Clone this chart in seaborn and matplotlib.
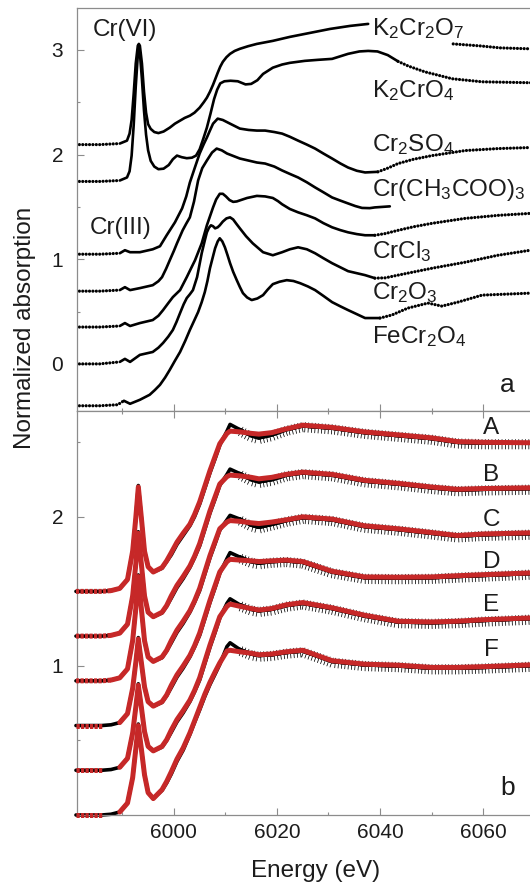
import numpy as np
import pandas as pd
import matplotlib
matplotlib.use("Agg")
import matplotlib.pyplot as plt
import matplotlib.patheffects as pe
from matplotlib.ticker import MultipleLocator, FixedLocator
import seaborn as sns

sns.set_theme(style="white")
plt.rcParams["font.family"] = ["Liberation Sans", "DejaVu Sans"]
plt.rcParams["mathtext.fontset"] = "custom"
plt.rcParams["mathtext.rm"] = "Liberation Sans"
plt.rcParams["mathtext.it"] = "Liberation Sans:italic"
plt.rcParams["mathtext.bf"] = "Liberation Sans:bold"

nan = np.nan

# ---------------------------------------------------------------------------
# (a) Cr K-edge XANES of reference compounds, vertically offset (eV, norm. abs.)
# ---------------------------------------------------------------------------
e_k2cr2o7 = [5981.0, 5985.6, 5989.5, 5990.9, 5991.4, 5991.8, 5992.2, 5992.6, 5993.0, 5993.2,
             5993.4, 5993.8, 5994.2, 5994.6, 5995.0, 5995.5, 5996.2, 5997.0, 5998.0, 5999.2,
             6000.2, 6001.2, 6002.1, 6003.1, 6004.0, 6005.0, 6005.8, 6006.4, 6007.0, 6007.6,
             6008.1, 6008.5, 6009.0, 6009.5, 6010.2, 6010.9, 6011.8, 6012.8, 6014.4, 6016.1,
             6019.2, 6022.5, 6026.4, 6030.3, 6034.2, 6037.7, nan, 6054.2, 6059.4, 6063.3, 6069.2]
a_k2cr2o7 = [2.095, 2.095, 2.105, 2.133, 2.200, 2.330, 2.580, 2.870, 3.040, 3.057,
             3.040, 2.870, 2.600, 2.400, 2.290, 2.245, 2.215, 2.205, 2.220, 2.257,
             2.295, 2.324, 2.350, 2.371, 2.400, 2.448, 2.500, 2.543, 2.600, 2.667,
             2.730, 2.781, 2.840, 2.886, 2.930, 2.962, 2.990, 3.010, 3.035, 3.057,
             3.086, 3.124, 3.162, 3.200, 3.229, 3.248, nan, 3.057, 3.038, 3.019, 3.010]

e_k2cro4 = [5981.0, 5985.6, 5989.5, 5990.9, 5991.4, 5991.8, 5992.2, 5992.6, 5993.0, 5993.2,
            5993.4, 5993.8, 5994.2, 5994.6, 5995.0, 5995.5, 5996.2, 5997.0, 5998.0, 5999.0,
            5999.8, 6000.6, 6001.5, 6002.5, 6003.5, 6004.3, 6005.0, 6005.7, 6006.4, 6007.1,
            6007.8, 6008.4, 6009.0, 6009.8, 6011.0, 6012.4, 6013.9, 6015.0, 6016.2, 6017.3,
            6019.2, 6021.0, 6022.5, 6025.4, 6028.0, 6030.7, 6033.8, 6036.0, 6037.7, 6039.5,
            6041.5, 6043.5, 6045.5, 6048.7, 6054.0, 6059.8, 6069.2]
a_k2cro4 = [1.743, 1.743, 1.752, 1.781, 1.840, 1.990, 2.280, 2.650, 2.950, 3.010,
            2.970, 2.720, 2.420, 2.190, 2.040, 1.940, 1.885, 1.860, 1.865, 1.900,
            1.955, 1.990, 1.975, 1.965, 1.970, 1.990, 2.050, 2.150, 2.257, 2.390,
            2.530, 2.620, 2.680, 2.700, 2.705, 2.700, 2.670, 2.675, 2.710, 2.770,
            2.830, 2.860, 2.876, 2.895, 2.905, 2.914, 2.962, 2.985, 2.990, 2.985,
            2.950, 2.890, 2.845, 2.790, 2.724, 2.695, 2.686]

e_cr2so4 = [5981.0, 5985.6, 5989.5, 5990.5, 5991.5, 5993.4, 5995.9, 5997.3, 5998.6, 6000.2,
            6001.6, 6002.4, 6003.1, 6004.1, 6005.0, 6005.8, 6006.4, 6007.0, 6007.6, 6008.5,
            6009.5, 6010.9, 6012.8, 6014.5, 6016.1, 6017.7, 6019.5, 6021.0, 6022.5, 6024.1,
            6025.8, 6027.4, 6029.0, 6030.7, 6032.3, 6033.8, 6035.5, 6037.1, 6039.6, 6041.5,
            6043.5, 6046.5, 6050.1, 6056.5, 6062.9, 6069.2]
a_cr2so4 = [1.048, 1.048, 1.057, 1.086, 1.067, 1.067, 1.095, 1.124, 1.229, 1.352,
            1.486, 1.600, 1.733, 1.880, 2.010, 2.100, 2.162, 2.230, 2.295, 2.343,
            2.330, 2.295, 2.248, 2.235, 2.229, 2.229, 2.215, 2.200, 2.170, 2.133,
            2.095, 2.057, 2.010, 1.962, 1.915, 1.876, 1.845, 1.829, 1.835, 1.870,
            1.914, 1.955, 1.990, 2.038, 2.057, 2.067]

e_cracetate = [5981.0, 5985.6, 5989.5, 5990.5, 5991.5, 5993.4, 5995.9, 5997.0, 5997.7, 5998.5,
               5999.2, 6000.0, 6000.6, 6001.7, 6002.4, 6003.1, 6003.9, 6004.7, 6005.5, 6006.4,
               6007.4, 6008.3, 6009.3, 6010.3, 6012.8, 6016.1, 6017.7, 6019.5, 6021.0, 6022.5,
               6024.1, 6025.8, 6027.4, 6029.0, 6030.7, 6032.3, 6033.8, 6035.2, 6036.5, 6038.0,
               6039.0, 6041.9]
a_cracetate = [0.695, 0.695, 0.705, 0.733, 0.705, 0.724, 0.752, 0.790, 0.829, 0.910,
               0.990, 1.080, 1.152, 1.276, 1.340, 1.400, 1.550, 1.752, 1.870, 1.943,
               2.019, 2.057, 2.040, 2.010, 1.962, 1.924, 1.914, 1.885, 1.848, 1.815,
               1.781, 1.735, 1.686, 1.640, 1.590, 1.560, 1.533, 1.508, 1.490, 1.488,
               1.495, 1.505]

e_crcl3 = [5981.0, 5985.6, 5989.5, 5990.5, 5991.5, 5993.4, 5995.9, 5997.0, 5997.9, 5998.9,
           5999.8, 6001.2, 6002.5, 6003.3, 6004.1, 6005.4, 6006.4, 6007.6, 6008.2, 6008.9,
           6009.5, 6010.1, 6010.8, 6011.5, 6012.2, 6012.8, 6014.2, 6016.1, 6017.7, 6019.2,
           6020.2, 6021.0, 6022.5, 6024.1, 6025.8, 6027.4, 6029.0, 6030.7, 6032.3, 6033.8,
           6035.5, 6037.1, 6039.0, 6041.0, 6043.5, 6046.5, 6050.1, 6056.5, 6062.9, 6069.2]
a_crcl3 = [0.352, 0.352, 0.362, 0.390, 0.362, 0.390, 0.419, 0.460, 0.514, 0.580,
           0.638, 0.705, 0.829, 0.910, 0.990, 1.152, 1.324, 1.495, 1.571, 1.625,
           1.625, 1.600, 1.565, 1.548, 1.552, 1.562, 1.585, 1.605, 1.600, 1.585,
           1.555, 1.525, 1.480, 1.448, 1.420, 1.390, 1.345, 1.305, 1.278, 1.257,
           1.240, 1.229, 1.229, 1.245, 1.276, 1.310, 1.343, 1.390, 1.419, 1.438]

e_cr2o3 = [5981.0, 5985.6, 5989.5, 5990.5, 5991.5, 5993.4, 5995.9, 5997.0, 5997.9, 5998.9,
           5999.8, 6000.5, 6001.2, 6001.9, 6002.5, 6003.1, 6003.7, 6004.5, 6005.4, 6006.0,
           6006.4, 6006.8, 6007.2, 6007.6, 6008.0, 6008.5, 6008.9, 6009.5, 6010.2, 6010.9,
           6011.5, 6012.1, 6012.8, 6014.0, 6015.3, 6017.3, 6019.2, 6021.0, 6022.5, 6024.1,
           6025.8, 6027.4, 6029.0, 6030.7, 6033.8, 6037.1, 6039.0, 6041.0, 6043.5, 6050.1,
           6056.5, 6062.9, 6069.2]
a_cr2o3 = [0.000, 0.000, 0.019, 0.048, 0.019, 0.086, 0.114, 0.155, 0.200, 0.260,
           0.324, 0.400, 0.486, 0.570, 0.629, 0.665, 0.705, 0.829, 1.057, 1.180,
           1.257, 1.300, 1.324, 1.315, 1.295, 1.305, 1.324, 1.360, 1.390, 1.400,
           1.380, 1.340, 1.295, 1.220, 1.152, 1.067, 1.038, 1.067, 1.095, 1.114,
           1.095, 1.057, 1.010, 0.962, 0.886, 0.848, 0.819, 0.822, 0.848, 0.914,
           0.971, 1.038, 1.086]

e_fecr2o4 = [5981.0, 5985.6, 5989.1, 5990.3, 5991.5, 5993.4, 5995.3, 5996.3, 5997.3, 5998.3,
             5999.2, 6000.2, 6001.2, 6002.2, 6003.1, 6004.0, 6004.7, 6005.4, 6006.0, 6006.5,
             6007.0, 6007.5, 6008.0, 6008.5, 6008.9, 6009.4, 6009.9, 6010.4, 6010.9, 6011.5,
             6012.2, 6012.8, 6013.4, 6014.2, 6015.1, 6016.2, 6017.3, 6018.2, 6019.2, 6020.5,
             6021.9, 6023.2, 6024.5, 6026.0, 6027.4, 6029.0, 6030.7, 6032.3, 6033.8, 6035.5,
             6037.1, 6040.0, 6042.3, 6045.4, 6049.3, 6052.0, 6055.1, 6059.8, 6069.2]
a_fecr2o4 = [-0.400, -0.400, -0.390, -0.352, -0.381, -0.343, -0.295, -0.250, -0.200, -0.130,
             -0.057, 0.030, 0.114, 0.220, 0.324, 0.420, 0.495, 0.590, 0.686, 0.790,
             0.914, 1.010, 1.105, 1.170, 1.200, 1.170, 1.114, 1.040, 0.962, 0.880,
             0.800, 0.735, 0.676, 0.635, 0.610, 0.625, 0.657, 0.710, 0.762, 0.785,
             0.800, 0.792, 0.771, 0.740, 0.705, 0.650, 0.590, 0.550, 0.514, 0.475,
             0.438, 0.438, 0.467, 0.533, 0.581, 0.552, 0.590, 0.657, 0.676]

ref_names = ["K2Cr2O7", "K2CrO4", "Cr2SO4", "Cr(CH3COO)3", "CrCl3", "Cr2O3", "FeCr2O4"]
ref_labels = [r"K$_{\mathregular{2}}$Cr$_{\mathregular{2}}$O$_{\mathregular{7}}$",
              r"K$_{\mathregular{2}}$CrO$_{\mathregular{4}}$",
              r"Cr$_{\mathregular{2}}$SO$_{\mathregular{4}}$",
              r"Cr(CH$_{\mathregular{3}}$COO)$_{\mathregular{3}}$",
              r"CrCl$_{\mathregular{3}}$",
              r"Cr$_{\mathregular{2}}$O$_{\mathregular{3}}$",
              r"FeCr$_{\mathregular{2}}$O$_{\mathregular{4}}$"]
ref_label_y = [3.20, 2.61, 2.10, 1.66, 1.07, 0.68, 0.26]

# ---------------------------------------------------------------------------
# (b) samples A-F: measured spectra (black) and linear-combination fits (red)
# ---------------------------------------------------------------------------
e_samples = [5981.0, 5986.0, 5987.8, 5989.5, 5991.0, 5992.0, 5992.6, 5993.1, 5993.7, 5994.3,
             5995.0, 5996.0, 5997.7, 5998.6, 5999.5, 6000.6, 6001.8, 6003.1, 6004.0, 6005.0,
             6006.0, 6007.0, 6008.0, 6008.9, 6010.3, 6010.9, 6012.8, 6015.0, 6016.5, 6019.0,
             6021.8, 6025.0, 6030.7, 6037.0, 6043.5, 6050.0, 6055.0, 6060.0, 6069.2]

fit_A = [1.500, 1.500, 1.505, 1.520, 1.580, 1.770, 1.990, 2.200, 1.990, 1.770,
         1.665, 1.630, 1.660, 1.705, 1.760, 1.830, 1.890, 1.950, 2.015, 2.100,
         2.205, 2.310, 2.405, 2.490, 2.560, 2.575, 2.570, 2.560, 2.555, 2.565,
         2.590, 2.615, 2.600, 2.570, 2.550, 2.530, 2.505, 2.500, 2.497]
dat_A = [1.500, 1.500, 1.505, 1.520, 1.580, 1.770, 1.990, 2.210, 1.990, 1.770,
         1.665, 1.630, 1.655, 1.700, 1.745, 1.815, 1.875, 1.940, 2.000, 2.085,
         2.190, 2.295, 2.390, 2.480, 2.575, 2.620, 2.585, 2.545, 2.530, 2.550,
         2.585, 2.610, 2.595, 2.565, 2.545, 2.525, 2.500, 2.495, 2.495]

fit_B = [1.200, 1.200, 1.205, 1.220, 1.280, 1.470, 1.680, 1.890, 1.680, 1.470,
         1.360, 1.330, 1.360, 1.405, 1.470, 1.540, 1.600, 1.670, 1.735, 1.820,
         1.930, 2.040, 2.135, 2.220, 2.270, 2.280, 2.275, 2.265, 2.255, 2.265,
         2.285, 2.300, 2.285, 2.245, 2.225, 2.200, 2.185, 2.190, 2.195]
dat_B = [1.200, 1.200, 1.205, 1.220, 1.280, 1.470, 1.680, 1.900, 1.680, 1.470,
         1.360, 1.330, 1.355, 1.400, 1.455, 1.525, 1.585, 1.660, 1.725, 1.805,
         1.915, 2.025, 2.120, 2.210, 2.285, 2.320, 2.290, 2.250, 2.235, 2.250,
         2.280, 2.295, 2.280, 2.240, 2.220, 2.195, 2.180, 2.185, 2.190]

fit_C = [0.900, 0.900, 0.905, 0.920, 0.980, 1.170, 1.380, 1.600, 1.380, 1.170,
         1.060, 1.030, 1.060, 1.105, 1.170, 1.240, 1.300, 1.370, 1.435, 1.520,
         1.630, 1.740, 1.835, 1.920, 1.965, 1.975, 1.970, 1.960, 1.955, 1.965,
         1.980, 2.000, 1.985, 1.940, 1.920, 1.895, 1.875, 1.885, 1.893]
dat_C = [0.900, 0.900, 0.905, 0.920, 0.980, 1.170, 1.380, 1.610, 1.380, 1.170,
         1.060, 1.030, 1.055, 1.100, 1.155, 1.225, 1.285, 1.360, 1.425, 1.505,
         1.615, 1.725, 1.820, 1.910, 1.980, 2.010, 1.985, 1.945, 1.930, 1.950,
         1.975, 1.995, 1.980, 1.935, 1.915, 1.890, 1.870, 1.880, 1.888]

fit_D = [0.600, 0.600, nan, 0.620, 0.680, 0.850, 1.020, 1.180, 1.020, 0.860,
         0.760, 0.730, 0.760, 0.805, 0.870, 0.940, 1.000, 1.070, 1.135, 1.220,
         1.330, 1.440, 1.540, 1.630, 1.700, 1.715, 1.710, 1.705, 1.700, 1.705,
         1.710, 1.700, 1.635, 1.597, 1.595, 1.597, 1.605, 1.612, 1.624]
dat_D = [0.600, 0.600, 0.605, 0.620, 0.680, 0.850, 1.020, 1.190, 1.020, 0.860,
         0.760, 0.730, 0.755, 0.800, 0.855, 0.925, 0.985, 1.060, 1.125, 1.205,
         1.315, 1.425, 1.525, 1.620, 1.720, 1.760, 1.730, 1.700, 1.690, 1.700,
         1.705, 1.695, 1.630, 1.592, 1.590, 1.592, 1.600, 1.607, 1.620]

fit_E = [0.300, 0.300, nan, 0.320, 0.380, 0.550, 0.720, 0.870, 0.720, 0.560,
         0.460, 0.430, 0.460, 0.505, 0.570, 0.640, 0.700, 0.770, 0.835, 0.920,
         1.030, 1.140, 1.240, 1.330, 1.400, 1.415, 1.400, 1.385, 1.375, 1.385,
         1.410, 1.425, 1.390, 1.340, 1.300, 1.295, 1.300, 1.310, 1.322]
dat_E = [0.300, 0.300, 0.305, 0.320, 0.380, 0.550, 0.720, 0.880, 0.720, 0.560,
         0.460, 0.430, 0.455, 0.500, 0.555, 0.625, 0.685, 0.760, 0.825, 0.905,
         1.015, 1.125, 1.225, 1.320, 1.420, 1.450, 1.410, 1.380, 1.370, 1.380,
         1.405, 1.420, 1.385, 1.335, 1.295, 1.290, 1.295, 1.305, 1.318]

fit_F = [0.000, 0.000, nan, 0.020, 0.080, 0.250, 0.440, 0.600, 0.440, 0.270,
         0.150, 0.110, 0.170, 0.225, 0.290, 0.375, 0.450, 0.550, 0.630, 0.720,
         0.810, 0.890, 0.960, 1.020, 1.100, 1.105, 1.095, 1.085, 1.075, 1.080,
         1.095, 1.105, 1.035, 1.012, 1.005, 0.990, 0.990, 0.995, 1.007]
dat_F = [0.000, 0.000, 0.005, 0.020, 0.080, 0.250, 0.440, 0.610, 0.440, 0.270,
         0.150, 0.110, 0.165, 0.215, 0.275, 0.360, 0.435, 0.540, 0.620, 0.705,
         0.795, 0.875, 0.945, 1.010, 1.130, 1.155, 1.110, 1.080, 1.070, 1.075,
         1.090, 1.100, 1.030, 1.007, 1.000, 0.985, 0.985, 0.990, 1.002]

sample_names = ["A", "B", "C", "D", "E", "F"]
sample_label_y = [2.597, 2.282, 1.980, 1.698, 1.409, 1.107]

# ---------------------------------------------------------------------------
# styling constants
# ---------------------------------------------------------------------------
INK = "#1c1c1c"
AXIS = "#8c8c8c"
FIT_RED = "#c62828"
LABEL_FS = 17.5
TICK_FS = 15

# energy window drawn as a continuous line for each reference; outside it the
# coarser scan steps show up as a chain of dots
ref_solid_window = {
    "K2Cr2O7": (5989.5, 6040.0),
    "K2CrO4": (5989.5, 6043.5),
    "Cr2SO4": (5989.5, 6037.5),
    "Cr(CH3COO)3": (5989.5, 1e9),
    "CrCl3": (5989.5, 6039.0),
    "Cr2O3": (5989.5, 6039.0),
    "FeCr2O4": (5989.5, 6037.5),
}


def split_runs(e, y, lo, hi):
    """Split one trace into (energy, value, part) pieces around [lo, hi];
    NaN entries break the trace."""
    e = np.asarray(e, float)
    y = np.asarray(y, float)
    good = ~(np.isnan(e) | np.isnan(y))
    idx = np.flatnonzero(good)
    runs = np.split(idx, np.flatnonzero(np.diff(idx) > 1) + 1)
    for r in runs:
        ee, yy = e[r], y[r]
        n = len(ee)
        i_lo = min(int(np.searchsorted(ee, lo)), n - 1)
        i_hi = min(int(np.searchsorted(ee, hi)), n - 1)
        if i_lo > 0:
            yield ee[:i_lo + 1], yy[:i_lo + 1], "outer_lo"
        if i_hi > i_lo:
            yield ee[i_lo:i_hi + 1], yy[i_lo:i_hi + 1], "inner"
        if i_hi < n - 1:
            yield ee[i_hi:], yy[i_hi:], "outer_hi"


def long_frame(traces, windows):
    frames = []
    uid = 0
    for name, (e, y) in traces.items():
        lo, hi = windows[name]
        for ee, yy, part in split_runs(e, y, lo, hi):
            frames.append(pd.DataFrame({"energy": ee, "mu": yy, "part": part,
                                        "unit": uid, "name": name}))
            uid += 1
    return pd.concat(frames, ignore_index=True)


ref_traces = dict(zip(ref_names, [(e_k2cr2o7, a_k2cr2o7), (e_k2cro4, a_k2cro4),
                                  (e_cr2so4, a_cr2so4), (e_cracetate, a_cracetate),
                                  (e_crcl3, a_crcl3), (e_cr2o3, a_cr2o3),
                                  (e_fecr2o4, a_fecr2o4)]))
df_ref = long_frame(ref_traces, ref_solid_window)
ref_fine = df_ref[df_ref["part"] == "inner"]
ref_coarse = df_ref[df_ref["part"] != "inner"]

fits = [fit_A, fit_B, fit_C, fit_D, fit_E, fit_F]
dats = [dat_A, dat_B, dat_C, dat_D, dat_E, dat_F]
df_fit = long_frame({n: (e_samples, f) for n, f in zip(sample_names, fits)},
                    {n: (5987.8, 1e9) for n in sample_names})
df_fit["style"] = np.where(df_fit["part"] == "inner", "solid", "dotted")
df_dat = long_frame({n: (e_samples, d) for n, d in zip(sample_names, dats)},
                    {n: (-1e9, 6012.8) for n in sample_names})
dat_core = df_dat[df_dat["part"] == "inner"]
dat_tail = df_dat[df_dat["part"] == "outer_hi"]

# ---------------------------------------------------------------------------
# figure
# ---------------------------------------------------------------------------
fig = plt.figure(figsize=(5.3, 8.85), dpi=100)
ax_a = fig.add_axes([0.14528, 0.53559, 0.85472, 0.45537])
ax_b = fig.add_axes([0.14528, 0.07910, 0.85472, 0.45649])

# panel (a): finely stepped region as a continuous trace, coarse steps as dots
sns.lineplot(data=ref_fine, x="energy", y="mu", units="unit", estimator=None, sort=False,
             color="black", linewidth=1.9, legend=False, ax=ax_a,
             solid_capstyle="round", solid_joinstyle="round")
sns.lineplot(data=ref_coarse, x="energy", y="mu", units="unit", estimator=None, sort=False,
             color="black", linewidth=2.3, legend=False, ax=ax_a,
             linestyle=(0, (0.01, 1.05)), dash_capstyle="round")

# panel (b): measured spectra with scatter in the EXAFS-side tail, fits on top
sns.lineplot(data=dat_core, x="energy", y="mu", units="unit", estimator=None, sort=False,
             color="black", linewidth=2.6, legend=False, ax=ax_b, zorder=2, clip_on=False,
             solid_joinstyle="round")
sns.lineplot(data=dat_tail, x="energy", y="mu", units="unit", estimator=None, sort=False,
             color="black", linewidth=2.6, legend=False, ax=ax_b, zorder=2, clip_on=False,
             path_effects=[pe.withTickedStroke(angle=-90, spacing=2.4, length=1.8,
                                               linewidth=0.55),
                           pe.withTickedStroke(angle=90, spacing=2.4, length=1.1,
                                               linewidth=0.5),
                           pe.Normal()])
sns.lineplot(data=df_fit, x="energy", y="mu", units="unit", estimator=None, sort=False,
             style="style", dashes={"solid": "", "dotted": (0.65, 0.25)},
             color=FIT_RED, linewidth=3.6, legend=False, ax=ax_b, zorder=3, clip_on=False,
             solid_joinstyle="round", solid_capstyle="round")

# axes cosmetics
for ax in (ax_a, ax_b):
    ax.set_xlim(5981.2, 6069.1)
    ax.set_xlabel("")
    ax.set_ylabel("")
    ax.xaxis.set_major_locator(MultipleLocator(20))
    ax.xaxis.set_minor_locator(MultipleLocator(10))
    ax.spines["right"].set_visible(False)
    for s in ("left", "top", "bottom"):
        ax.spines[s].set_color(AXIS)
        ax.spines[s].set_linewidth(0.9)
    ax.tick_params(which="both", direction="in", color=AXIS, width=0.8,
                   labelsize=TICK_FS, labelcolor=INK)
    ax.tick_params(which="major", length=5)
    ax.tick_params(which="minor", length=2.5)
    ax.tick_params(axis="y", pad=10)
    ax.tick_params(axis="x", pad=6)
    ax.set_facecolor("white")

ax_a.set_ylim(-0.45, 3.40)
ax_a.yaxis.set_major_locator(MultipleLocator(1))
ax_a.yaxis.set_minor_locator(MultipleLocator(0.5))
ax_a.tick_params(axis="x", which="both", bottom=True, top=False, labelbottom=False)
ax_a.tick_params(axis="y", which="both", left=True, right=False)

ax_b.set_ylim(0.0, 2.71)
ax_b.yaxis.set_major_locator(FixedLocator([1, 2]))
ax_b.yaxis.set_minor_locator(FixedLocator([0.5, 1.5, 2.5]))
ax_b.tick_params(axis="x", which="both", bottom=True, top=True, labelbottom=True)
ax_b.tick_params(axis="y", which="both", left=True, right=False)

# annotations, panel (a)
for lab, y in zip(ref_labels, ref_label_y):
    ax_a.text(6038.4, y, lab, fontsize=LABEL_FS, color=INK, ha="left", va="center")
ax_a.text(5984.3, 3.19, "Cr(VI)", fontsize=LABEL_FS, color=INK, ha="left", va="center")
ax_a.text(5983.7, 1.30, "Cr(III)", fontsize=LABEL_FS, color=INK, ha="left", va="center")
ax_a.text(6064.7, -0.20, "a", fontsize=19, color=INK, ha="center", va="center")

# annotations, panel (b)
for lab, y in zip(sample_names, sample_label_y):
    ax_b.text(6061.6, y, lab, fontsize=LABEL_FS, color=INK, ha="center", va="center")
ax_b.text(6064.7, 0.18, "b", fontsize=19, color=INK, ha="center", va="center")

fig.text(0.047, 0.629, "Normalized absorption", rotation=90, fontsize=LABEL_FS,
         color=INK, ha="center", va="center")
fig.text(0.596, 0.0086, "Energy (eV)", fontsize=LABEL_FS, color=INK,
         ha="center", va="baseline")

fig.savefig("out.png", dpi=100)
